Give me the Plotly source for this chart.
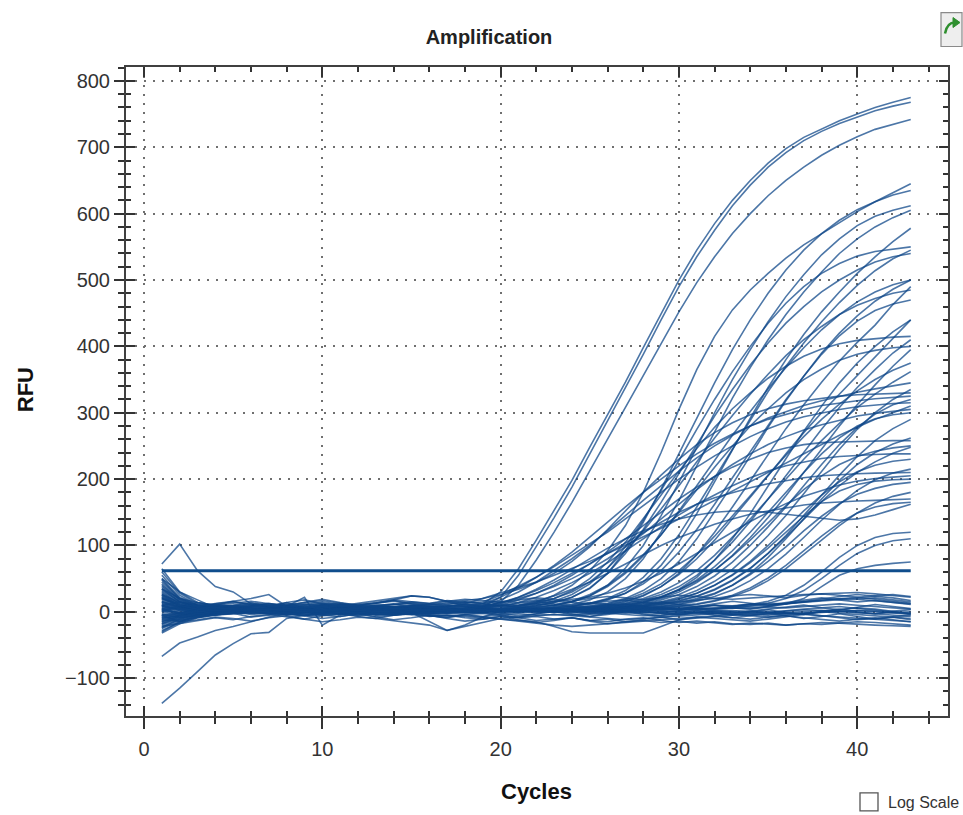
import plotly.graph_objects as go

# ---------------- data ----------------
cycles = list(range(1, 44))
threshold = 62

x_ticks = [0, 10, 20, 30, 40]
y_ticks = [-100, 0, 100, 200, 300, 400, 500, 600, 700, 800]

high_curves = [
    [12,5,2,4,6,3,5,4,2,3,5,4,1,3,2,4,5,8, 12,30,65,108,152, 198,248,296,346,398, 450,500,545,585,620, 650,676,698,715,728, 740,750,760,768,775],
    [-6,-2,1,3,2,4,3,5,4,2,3,1,0,2,3,1,2,4, 8,22,55,98,142, 188,238,287,337,388, 440,490,535,575,612, 643,670,692,710,724, 736,746,755,762,768],
    [25,10,4,2,3,5,4,2,1,3,4,2,3,5,4,2,3,5, 6,15,40,78,120, 165,212,260,308,356, 405,452,496,535,570, 600,627,650,670,688, 703,716,727,735,742],
    [3,-2,0,2,1,3,4,2,0,1,3,2,1,0,2,3,1,2, 3,5,8,14,25, 40,62,92,130,180, 240,305,365,415,455, 485,510,533,553,570, 587,603,618,632,645],
]

mid_curves = [
    [45,20,9,5,3,6,4,2,5,7,5,3,6,8,7,4,3,2, 2,4,6,9,14, 22,35,58,92,135, 185,238,292,345,395, 440,480,515,545,570, 590,606,618,628,635],
    [-22,-12,-5,-1,2,0,3,5,4,2,-1,0,2,4,3,1,2,3, 4,2,5,7,10, 15,24,40,66,100, 145,195,248,300,350, 395,437,475,508,538, 562,582,596,605,612],
    [18,7,2,0,-2,1,3,2,-1,-3,0,2,1,-2,-1,0,2,1, 1,3,2,4,7, 11,18,30,50,80, 120,168,220,272,322, 368,410,448,482,512, 540,562,580,594,605],
    [35,15,6,3,5,4,2,1,3,6,4,2,3,5,8,6,4,3, 3,1,2,4,5, 8,12,18,28,45, 70,105,148,196,245, 292,338,380,418,452, 482,510,535,558,578],
    [-10,-4,0,2,4,3,1,0,2,5,3,1,-1,0,3,2,1,2, 2,4,6,10,16, 26,42,66,98,138, 182,228,275,320,362, 400,435,465,490,510, 525,536,543,547,550],
    [8,2,-1,-3,-2,0,1,-1,-3,-2,0,1,-1,-2,0,-1,-2,0, 0,2,1,3,5, 8,13,20,32,52, 80,116,158,202,246, 290,332,370,405,437, 466,492,514,532,545],
    [60,28,12,7,5,8,6,4,7,9,8,6,5,7,9,8,6,5, 5,3,6,9,14, 22,36,58,88,124, 165,208,252,295,335, 372,405,435,460,482, 500,515,527,535,540],
    [-18,-8,-3,0,-1,1,3,2,0,1,-1,-2,0,1,-1,0,1,2, 2,3,1,2,4, 6,9,13,20,32, 50,76,110,150,192, 235,278,318,355,390, 420,446,468,486,500],
    [28,12,5,2,0,-1,-3,-2,0,1,-1,-3,-4,-2,-1,-3,-2,0, 1,2,3,2,4, 5,7,10,15,24, 38,58,86,120,158, 198,238,276,312,346, 378,406,432,463,490],
    [5,8,10,9,7,8,10,12,11,9,10,12,13,18,24,22,16,9, 6,8,10,14,20, 30,45,66,92,122, 155,190,226,262,296, 328,358,386,410,430, 448,462,472,480,485],
    [-25,-14,-6,-3,-1,0,2,1,-1,-2,0,1,3,2,0,1,2,1, 2,1,3,2,4, 5,7,11,16,25, 38,56,80,108,140, 172,205,238,270,300, 328,356,384,412,440],
    [15,6,4,6,8,7,5,4,6,8,10,9,7,6,8,7,5,4, 3,5,8,12,20, 32,50,75,105,140, 176,212,246,278,306, 330,352,370,385,396, 404,409,412,414,415],
    [0,-5,-7,-4,-2,0,-1,-3,-5,-4,-2,-1,-3,-4,-2,-3,-1,0, 1,2,1,3,2, 4,6,8,12,18, 26,38,55,78,105, 136,170,205,240,275, 308,338,365,390,410],
    [32,14,7,4,2,3,5,6,4,2,3,5,7,6,4,3,5,4, 2,3,4,6,10, 16,26,40,60,86, 116,150,185,218,250, 280,306,330,350,366, 379,388,394,398,400],
    [-8,-12,-9,-5,-3,-1,0,-2,-4,-3,-1,0,-2,-3,-1,0,-1,0, 0,1,2,1,3, 4,5,7,10,14, 20,30,44,62,85, 112,142,175,210,245, 280,312,342,370,395],
    [20,9,3,1,2,4,3,1,0,2,4,6,5,3,2,4,3,2, 2,1,3,4,3, 5,8,12,18,28, 42,62,86,114,144, 175,206,236,264,290, 313,333,350,364,375],
    [42,18,8,4,2,0,1,3,2,0,-1,1,3,2,0,1,2,1, 1,3,2,2,4, 5,6,9,13,20, 30,44,62,85,112, 140,170,200,230,258, 284,308,328,346,362],
    [22,9,4,7,3,-1,2,6,3,-1,2,5,1,-2,1,4,2,3, 3,5,4,7,10, 15,24,38,58,84, 116,152,190,228,266, 302,336,368,398,425, 448,467,482,493,500],
    [-32,-18,-9,-4,0,3,-1,-4,0,3,1,-2,2,5,1,-2,0,3, 1,3,2,4,6, 9,13,19,28,42, 62,90,124,162,202, 242,282,320,355,388, 416,438,454,464,470],
]

early_curves = [
    [10,4,2,3,5,4,6,5,3,4,6,8,7,5,6,7,8,9, 10,18,30,45,62, 80,100,122,145,168, 190,212,232,250,266, 280,292,302,311,318, 325,331,336,341,345],
    [-15,-6,-1,2,4,3,5,6,4,5,7,8,6,7,9,8,9,10, 12,22,36,52,70, 90,112,135,158,180, 200,220,238,254,268, 280,290,298,305,311, 315,318,321,323,325],
    [22,10,6,8,10,9,7,8,10,12,11,9,10,12,13,11,12,13, 15,25,38,52,68, 85,102,120,140,160, 180,200,218,235,250, 264,276,286,294,300, 305,309,312,314,315],
    [4,-1,-3,0,2,1,3,4,2,3,5,4,6,7,5,6,8,12, 20,28,36,45,55, 65,76,88,100,113, 126,140,154,168,182, 196,210,224,238,252, 266,278,290,300,310],
    [50,22,10,6,4,2,3,1,0,2,1,-1,0,2,1,0,2,3, 5,10,18,28,40, 55,72,90,110,130, 150,170,188,204,218, 230,240,247,252,255, 256,257,258,258,258],
    [-5,-9,-6,-3,0,2,1,-1,0,2,1,0,-2,-1,1,0,1,2, 4,8,14,22,32, 44,58,74,92,110, 128,146,162,176,190, 202,212,220,226,231, 234,236,237,238,238],
    [26,11,5,7,9,8,6,7,9,10,8,7,9,11,10,9,8,7, 8,14,22,32,44, 58,72,88,104,120, 135,150,162,172,180, 187,193,198,202,205, 207,208,209,210,210],
    [14,6,1,-2,-1,1,0,-2,-1,1,2,0,-1,1,0,-1,1,2, 3,6,10,16,24, 34,45,58,72,86, 100,112,122,132,140, 147,152,157,161,164, 166,167,168,169,170],
    [-20,-10,-4,0,1,3,2,0,1,3,2,1,3,4,2,3,4,5, 6,12,22,34,48, 64,80,96,110,122, 132,140,146,150,152, 152,150,147,143,140, 138,140,146,154,162],
    [12,6,8,11,9,13,10,8,12,15,11,9,13,16,12,10,14,17, 20,26,34,44,58, 76,98,124,152,180, 206,230,252,270,285, 297,306,313,318,322, 325,327,328,329,330],
    [-14,-6,-2,-5,-1,3,-2,-5,-1,2,-3,-6,-2,1,-4,-1,2,5, 9,14,20,28,38, 50,64,80,98,118, 140,162,184,204,222, 238,252,264,274,282, 289,295,299,302,305],
    [9,15,11,7,10,14,9,6,10,13,8,5,9,12,7,4,8,11, 9,12,10,13,15, 18,22,28,36,46, 58,72,88,104,120, 136,150,163,174,183, 191,197,201,203,205],
]

late_curves = [
    [38,16,6,2,0,-2,-1,1,0,-2,-3,-1,0,-2,-1,0,-1,0, 1,2,0,3,2, 4,3,5,7,10, 15,22,32,46,64, 88,115,145,178,212, 245,275,300,320,335],
    [6,1,-2,-4,-3,-1,-2,-4,-6,-5,-3,-2,-4,-5,-3,-2,-1,0, 2,3,1,2,4, 3,5,6,8,12, 18,26,38,54,75, 100,128,158,190,222, 252,278,298,312,320],
    [-12,-5,-2,1,3,2,0,1,3,4,2,0,1,3,2,1,0,1, 0,2,3,1,2, 4,5,7,10,15, 22,33,48,68,92, 120,150,180,210,238, 262,280,291,297,300],
    [16,7,3,5,4,2,1,3,5,4,2,3,5,6,4,3,2,1, 1,0,2,3,1, 2,4,5,6,8, 11,16,23,33,47, 65,88,115,145,176, 206,234,258,276,290],
    [48,20,9,5,7,6,4,5,7,6,5,7,8,6,5,4,6,5, 3,2,4,3,5, 4,6,8,11,16, 23,33,46,63,84, 108,134,160,184,205, 222,234,242,247,250],
    [-28,-16,-8,-4,-2,0,-1,1,0,-2,-1,0,2,1,-1,0,1,2, 2,1,0,2,3, 2,4,5,6,9, 12,17,24,34,48, 66,88,113,140,166, 190,210,226,239,248],
    [2,-1,1,3,2,0,-2,-1,1,2,0,-1,1,0,-2,-1,0,1, 1,3,2,1,3, 4,3,5,7,9, 13,19,28,40,56, 76,100,126,152,176, 196,211,221,227,230],
    [24,10,4,1,-1,0,2,1,-1,-2,0,1,-1,-3,-2,0,-1,0, 0,1,2,0,1, 3,2,4,5,6, 8,11,16,23,33, 47,65,87,112,138, 162,183,199,209,215],
    [-16,-7,-2,1,0,2,4,3,1,2,4,5,3,2,4,3,2,1, 2,3,2,4,3, 5,4,6,8,10, 14,20,28,40,55, 74,96,120,144,166, 182,192,197,199,200],
    [34,15,7,3,1,0,2,3,1,0,-1,1,2,0,1,2,1,0, 1,2,1,3,2, 3,5,4,6,8, 10,14,20,28,40, 56,76,98,122,144, 163,177,186,192,195],
    [-4,-2,0,2,3,1,-1,0,2,1,-1,-2,0,1,-1,-15,-28,-20, -8,1,0,2,1, 2,3,2,4,5, 6,8,11,16,23, 33,47,65,86,108, 130,149,164,174,180],
    [9,3,0,-2,-1,1,0,-1,1,2,0,-1,1,0,2,1,0,1, 2,1,3,2,1, 3,4,3,5,6, 7,9,12,17,25, 36,51,70,92,114, 134,149,158,163,165],
    [65,30,14,7,4,3,5,4,2,3,5,4,3,2,1,3,2,1, 1,0,2,1,3, 2,1,3,2,4, 3,5,4,6,8, 11,16,25,40,60, 82,100,112,118,120],
    [-24,-11,-4,0,2,1,-1,0,2,1,-1,0,1,-1,0,2,1,0, 0,2,1,0,2, 1,3,2,1,3, 2,4,3,5,7, 9,13,20,32,50, 70,88,100,107,110],
    [3,6,4,2,1,3,2,0,1,2,-1,0,1,-1,-2,0,1,2, 2,1,0,2,1, 3,2,1,3,2, 4,3,2,4,5, 6,8,12,20,38, 55,65,70,73,75],
    [20,8,3,1,3,5,4,2,1,3,2,0,1,2,0,-1,1,0, 1,2,1,3,2, 4,5,6,9,14, 22,34,52,78,110, 148,190,232,272,310, 345,375,400,422,440],
    [-3,-8,-4,0,4,1,-3,0,3,-1,-4,0,3,-1,-3,1,4,1, 2,0,3,1,-1, 2,4,1,3,6, 8,12,18,27,40, 58,82,110,140,170, 198,222,240,253,262],
]

negative_curves = [
    [8,3,1,4,8,6,2,0,5,9,4,6,10,7,3,0,5,2, 0,4,2,6,4, 2,0,5,3,7, 4,8,6,10,8, 12,10,13,15,18, 20,22,19,16,13],
    [-10,-5,-2,0,3,-2,0,5,2,-3,0,3,-5,-2,0,-6,-8,-5, -8,-12,-15,-18,-20, -22,-20,-17,-15,-13, -12,-10,-8,-10,-12, -14,-11,-8,-4,0, 3,6,4,1,-3],
    [2,-3,-5,-2,0,1,-1,-3,-2,0,-1,-2,-4,-3,-5,-6,-5,-7, -8,-10,-12,-15,-22, -30,-32,-32,-33,-32, -22,-12,-8,-6,-5, -4,-5,-3,-2,0, 1,2,0,-1,-3],
    [15,8,5,6,4,8,12,10,6,4,8,10,6,4,8,12,10,8, 6,10,8,12,10, 8,6,10,12,8, 6,4,8,10,6, 4,8,12,16,20, 23,26,24,21,17],
    [-18,-9,-6,-3,0,-4,-2,2,0,-5,-7,-3,0,-5,-3,-7,-5,-9, -11,-7,-9,-13,-11, -9,-13,-15,-11,-9, -13,-16,-14,-17,-19, -17,-19,-20,-18,-16, -17,-19,-20,-21,-22],
    [30,12,8,9,7,11,9,5,7,11,13,9,7,11,15,13,17,15, 13,16,14,18,16, 14,12,16,18,14, 12,15,17,20,19, 21,23,25,26,27, 28,29,27,24,22],
    [-30,-15,-6,-2,0,1,3,2,0,-1,1,2,0,-1,1,0,-1,1, 0,2,1,-1,0, 2,1,0,-2,-1, 0,1,-1,-2,0, 1,-1,-3,-2,0, -2,-4,-6,-8,-10],
    [55,25,10,4,2,3,5,4,2,1,3,4,2,0,1,3,2,4, 3,5,4,2,3, 5,6,4,3,5, 7,6,8,10,9, 11,13,12,15,18, 20,19,17,14,12],
    [-12,-14,-8,-3,4,2,-3,0,4,2,-1,-5,-3,2,0,-3,-6,-4, -7,-5,-9,-7,-11, -9,-13,-11,-15,-13, -16,-14,-17,-15,-18, -19,-17,-20,-18,-19, -17,-15,-16,-18,-20],
    [10,4,1,-3,0,5,3,-3,-6,0,3,-3,-7,-5,0,-3,3,0, 2,1,3,2,0, 1,3,2,4,3, 5,4,6,5,7, 8,10,12,14,16, 18,20,21,18,15],
    [40,18,7,3,1,-1,0,2,1,-1,-2,0,1,-1,-2,0,-1,-3, -2,-4,-3,-5,-4, -6,-8,-10,-12,-10, -8,-6,-4,-3,-2, -1,0,-2,-3,-1, 0,2,1,-1,-4],
    [-138,-115,-90,-65,-48,-33,-31,-10,-5,-3,-1,0,-2,-1,1,0,-1,0, 1,0,2,1,-1, 0,1,-1,0,2, 1,0,-1,1,2, 0,-1,1,3,2, 0,-2,-3,-1,0],
    [72,102,62,38,30,12,8,14,5,10,6,4,3,5,2,4,3,1, 2,0,1,3,2, 0,-1,1,2,0, -1,-2,0,1,-1, -2,-3,-1,0,2, 1,-1,-3,-5,-7],
    [-67,-47,-38,-28,-22,-15,-8,-3,-1,0,2,1,0,-1,1,2,0,1, 0,-2,-1,0,1, -1,-3,-2,0,-1, -2,-4,-3,-2,-4, -5,-3,-2,-4,-6, -8,-10,-12,-13,-15],
    [5,-2,0,10,16,20,26,8,22,-20,-5,0,3,1,-1,2,0,1, -1,1,0,2,1, 3,2,1,0,2, 4,3,5,4,6, 5,7,6,8,10, 12,10,8,6,4],
    [20,10,6,12,15,10,8,14,18,12,9,13,17,20,24,22,16,12, 8,10,6,4,2, 0,-2,1,3,0, -2,-4,-1,2,0, -3,-1,2,4,6, 8,5,2,0,-2],
    [-5,-15,-12,-8,-10,-14,-9,-6,-11,-15,-12,-8,-10,-13,-16,-20,-28,-22, -15,-10,-8,-6,-4, -5,-3,-2,-4,-6, -5,-3,-1,-2,-4, -6,-8,-5,-3,-6, -9,-12,-10,-7,-5],
    [35,20,14,10,13,16,12,9,14,17,13,10,14,18,15,12,16,19, 17,14,18,21,19, 16,20,23,21,18, 22,25,23,20,24, 26,24,21,25,27, 25,22,24,26,23],
    [-22,-18,-13,-9,-12,-7,-4,-8,-11,-6,-3,-7,-10,-5,-2,-6,-9,-4, -2,-5,-8,-3,0, -4,-7,-2,1,-3, -6,-1,2,-2,-5, 0,3,-1,-4,1, 4,0,-3,1,3],
    [50,30,18,6,-2,-8,-5,-1,-6,-10,-7,-3,-8,-12,-9,-5,-10,-14, -11,-7,-12,-16,-13, -9,-14,-18,-15,-11, -8,-12,-10,-7,-9, -11,-8,-6,-9,-12, -14,-11,-9,-12,-15],
    [0,8,14,10,6,9,13,8,4,7,11,6,2,5,9,4,1,5, 8,3,0,4,7, 2,-1,3,6,1, -2,2,5,0,-3, 1,4,7,10,6, 3,7,11,8,5],
    [-8,-2,4,8,5,1,6,10,7,2,-2,3,7,4,0,-4,1,5, 2,-2,-6,-3,1, -3,-7,-4,0,-4, -8,-5,-1,-5,-9, -6,-2,-6,-10,-7, -3,-7,-11,-8,-12],
    [26,14,9,12,16,11,7,10,15,19,14,10,13,17,12,8,11,15, 12,9,13,16,12, 10,14,11,8,12, 15,11,8,12,16, 13,10,14,17,21, 18,15,17,14,11],
]

# ---------------- figure ----------------
FONT = "Liberation Sans, Arial, sans-serif"
LINE_COLOR = "rgba(14,70,136,0.74)"

fig = go.Figure()
all_curves = negative_curves + late_curves + early_curves + mid_curves + high_curves
for ys in all_curves:
    fig.add_trace(go.Scatter(
        x=cycles[:len(ys)], y=ys, mode="lines",
        line=dict(color=LINE_COLOR, width=1.6),
        hoverinfo="skip", showlegend=False))

fig.add_trace(go.Scatter(
    x=[cycles[0], cycles[-1]], y=[threshold, threshold], mode="lines",
    line=dict(color="#0f4d8c", width=3), hoverinfo="skip", showlegend=False))

# dummy trace so the overlay axes (inside ticks) are drawn
fig.add_trace(go.Scatter(x=[None], y=[None], xaxis="x2", yaxis="y2",
                         mode="lines", showlegend=False, hoverinfo="skip"))

# pixel -> paper helpers
L, R, T, B = 126, 948, 66.5, 716
def px(x):
    return (x - L) / (R - L)
def py(y):
    return (B - y) / (B - T)

XR = [-1.01, 45.09]
YR = [-157, 821]
TICKC = "#333333"

common = dict(showline=True, linecolor="#404040", linewidth=2, zeroline=False)

fig.update_layout(
    width=963, height=815,
    margin=dict(l=L, r=963 - R, t=T, b=815 - B),
    paper_bgcolor="white", plot_bgcolor="white",
    font=dict(family=FONT, color="#222"),
    title=dict(text="<b>Amplification</b>", x=489 / 963, xref="container", xanchor="center",
               y=1 - 37 / 815, yref="container", yanchor="middle",
               font=dict(size=20, color="#222", family=FONT)),
    xaxis=dict(range=XR, tickvals=x_ticks, ticks="outside", ticklen=11, tickwidth=2,
               tickcolor=TICKC, mirror=True, showgrid=True, gridcolor="#6f6f6f",
               griddash="2px,7px", gridwidth=1.5,
               minor=dict(tickvals=list(range(0, 46, 2)), ticks="outside", ticklen=6,
                          tickwidth=1.5, tickcolor=TICKC, showgrid=False),
               tickfont=dict(size=20, color="#333", family=FONT),
               ticklabelstandoff=3, **common),
    yaxis=dict(range=YR, tickvals=y_ticks, ticks="outside", ticklen=10, tickwidth=2,
               tickcolor=TICKC, mirror=True, showgrid=True, gridcolor="#6f6f6f",
               griddash="2px,7px", gridwidth=1.5,
               minor=dict(tickvals=list(range(-160, 821, 20)), ticks="outside", ticklen=6,
                          tickwidth=1.5, tickcolor=TICKC, showgrid=False),
               tickfont=dict(size=20, color="#333", family=FONT),
               ticklabelstandoff=0, **common),
    xaxis2=dict(range=XR, overlaying="x", anchor="y2", side="bottom",
                tickvals=x_ticks, ticks="inside", ticklen=10, tickwidth=2, tickcolor=TICKC,
                mirror="ticks", showgrid=False, showticklabels=False,
                minor=dict(tickvals=list(range(0, 46, 2)), ticks="inside", ticklen=5,
                           tickwidth=1.5, tickcolor=TICKC, showgrid=False),
                **common),
    yaxis2=dict(range=YR, overlaying="y", anchor="x2", side="left",
                tickvals=y_ticks, ticks="inside", ticklen=9, tickwidth=2, tickcolor=TICKC,
                mirror="ticks", showgrid=False, showticklabels=False,
                minor=dict(tickvals=list(range(-160, 821, 20)), ticks="inside", ticklen=5,
                           tickwidth=1.5, tickcolor=TICKC, showgrid=False),
                **common),
)

fig.add_annotation(text="<b>RFU</b>", x=px(25), y=py(390), xref="paper", yref="paper",
                   textangle=-90, showarrow=False, xanchor="center", yanchor="middle",
                   font=dict(size=22, color="#111", family=FONT))
fig.add_annotation(text="<b>Cycles</b>", x=px(536), y=py(792), xref="paper", yref="paper",
                   showarrow=False, xanchor="center", yanchor="middle",
                   font=dict(size=22, color="#111", family=FONT))
fig.add_annotation(text="Log Scale", x=px(886), y=py(803), xref="paper", yref="paper",
                   showarrow=False, xanchor="left", yanchor="middle",
                   font=dict(size=16, color="#333", family=FONT))

# checkbox
fig.add_shape(type="rect", xref="paper", yref="paper",
              x0=px(860), x1=px(878), y0=py(811), y1=py(793),
              line=dict(color="#555", width=1.3), fillcolor="white")
# toolbar icon (top right)
fig.add_shape(type="rect", xref="paper", yref="paper",
              x0=px(941), x1=px(962), y0=py(46), y1=py(12),
              line=dict(color="#8a8a8a", width=1.2), fillcolor="#eeeeee")
fig.add_shape(type="path", xref="paper", yref="paper",
              path=f"M {px(945)} {py(33)} Q {px(947)} {py(22)} {px(955)} {py(22)}",
              line=dict(color="#2f8f2f", width=2.5))
fig.add_shape(type="path", xref="paper", yref="paper",
              path=f"M {px(953)} {py(17)} L {px(960)} {py(22)} L {px(953)} {py(27)} Z",
              line=dict(color="#2f8f2f", width=1), fillcolor="#2f8f2f")

fig.write_html("out.html", config={"displayModeBar": False},
               post_script="document.body.style.margin='0px';document.body.style.padding='0px';document.body.style.overflow='hidden';")
